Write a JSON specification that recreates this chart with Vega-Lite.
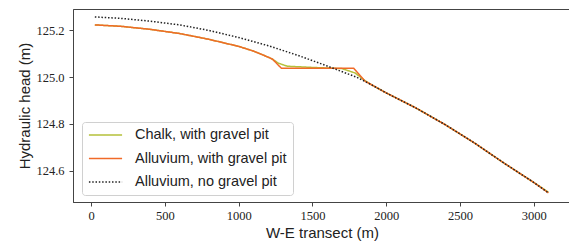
{
  "$schema": "https://vega.github.io/schema/vega-lite/v6.json",
  "width": 498,
  "height": 193,
  "autosize": {"type": "none"},
  "padding": {"left": 73, "top": 9, "right": 0, "bottom": 41},
  "background": "white",
  "config": {
    "view": {"stroke": "#444", "strokeWidth": 1},
    "axis": {
      "domainColor": "#444",
      "tickColor": "#444",
      "tickSize": 4,
      "grid": false,
      "labelFont": "Liberation Serif",
      "labelFontSize": 12.5,
      "labelColor": "#222",
      "titleFont": "Liberation Sans",
      "titleFontSize": 15,
      "titleFontWeight": "normal",
      "titleColor": "#222"
    }
  },
  "data": {
    "values": [
      {"x": 25, "h": 125.224, "series": "Chalk, with gravel pit"},
      {"x": 200, "h": 125.218, "series": "Chalk, with gravel pit"},
      {"x": 400, "h": 125.205, "series": "Chalk, with gravel pit"},
      {"x": 600, "h": 125.187, "series": "Chalk, with gravel pit"},
      {"x": 800, "h": 125.162, "series": "Chalk, with gravel pit"},
      {"x": 1000, "h": 125.132, "series": "Chalk, with gravel pit"},
      {"x": 1100, "h": 125.112, "series": "Chalk, with gravel pit"},
      {"x": 1200, "h": 125.086, "series": "Chalk, with gravel pit"},
      {"x": 1230, "h": 125.077, "series": "Chalk, with gravel pit"},
      {"x": 1270, "h": 125.060, "series": "Chalk, with gravel pit"},
      {"x": 1330, "h": 125.047, "series": "Chalk, with gravel pit"},
      {"x": 1500, "h": 125.042, "series": "Chalk, with gravel pit"},
      {"x": 1700, "h": 125.037, "series": "Chalk, with gravel pit"},
      {"x": 1790, "h": 125.018, "series": "Chalk, with gravel pit"},
      {"x": 1855, "h": 124.986, "series": "Chalk, with gravel pit"},
      {"x": 1900, "h": 124.968, "series": "Chalk, with gravel pit"},
      {"x": 2000, "h": 124.933, "series": "Chalk, with gravel pit"},
      {"x": 2200, "h": 124.869, "series": "Chalk, with gravel pit"},
      {"x": 2400, "h": 124.797, "series": "Chalk, with gravel pit"},
      {"x": 2600, "h": 124.718, "series": "Chalk, with gravel pit"},
      {"x": 2800, "h": 124.632, "series": "Chalk, with gravel pit"},
      {"x": 3000, "h": 124.550, "series": "Chalk, with gravel pit"},
      {"x": 3100, "h": 124.508, "series": "Chalk, with gravel pit"},

      {"x": 25, "h": 125.224, "series": "Alluvium, with gravel pit"},
      {"x": 200, "h": 125.218, "series": "Alluvium, with gravel pit"},
      {"x": 400, "h": 125.205, "series": "Alluvium, with gravel pit"},
      {"x": 600, "h": 125.187, "series": "Alluvium, with gravel pit"},
      {"x": 800, "h": 125.162, "series": "Alluvium, with gravel pit"},
      {"x": 1000, "h": 125.132, "series": "Alluvium, with gravel pit"},
      {"x": 1100, "h": 125.112, "series": "Alluvium, with gravel pit"},
      {"x": 1200, "h": 125.086, "series": "Alluvium, with gravel pit"},
      {"x": 1230, "h": 125.077, "series": "Alluvium, with gravel pit"},
      {"x": 1290, "h": 125.038, "series": "Alluvium, with gravel pit"},
      {"x": 1500, "h": 125.038, "series": "Alluvium, with gravel pit"},
      {"x": 1780, "h": 125.038, "series": "Alluvium, with gravel pit"},
      {"x": 1855, "h": 124.984, "series": "Alluvium, with gravel pit"},
      {"x": 1900, "h": 124.968, "series": "Alluvium, with gravel pit"},
      {"x": 2000, "h": 124.933, "series": "Alluvium, with gravel pit"},
      {"x": 2200, "h": 124.869, "series": "Alluvium, with gravel pit"},
      {"x": 2400, "h": 124.797, "series": "Alluvium, with gravel pit"},
      {"x": 2600, "h": 124.718, "series": "Alluvium, with gravel pit"},
      {"x": 2800, "h": 124.632, "series": "Alluvium, with gravel pit"},
      {"x": 3000, "h": 124.550, "series": "Alluvium, with gravel pit"},
      {"x": 3100, "h": 124.505, "series": "Alluvium, with gravel pit"},

      {"x": 25, "h": 125.258, "series": "Alluvium, no gravel pit"},
      {"x": 200, "h": 125.252, "series": "Alluvium, no gravel pit"},
      {"x": 400, "h": 125.240, "series": "Alluvium, no gravel pit"},
      {"x": 600, "h": 125.224, "series": "Alluvium, no gravel pit"},
      {"x": 800, "h": 125.200, "series": "Alluvium, no gravel pit"},
      {"x": 1000, "h": 125.170, "series": "Alluvium, no gravel pit"},
      {"x": 1200, "h": 125.135, "series": "Alluvium, no gravel pit"},
      {"x": 1400, "h": 125.094, "series": "Alluvium, no gravel pit"},
      {"x": 1600, "h": 125.048, "series": "Alluvium, no gravel pit"},
      {"x": 1800, "h": 125.000, "series": "Alluvium, no gravel pit"},
      {"x": 1900, "h": 124.968, "series": "Alluvium, no gravel pit"},
      {"x": 2000, "h": 124.933, "series": "Alluvium, no gravel pit"},
      {"x": 2200, "h": 124.869, "series": "Alluvium, no gravel pit"},
      {"x": 2400, "h": 124.797, "series": "Alluvium, no gravel pit"},
      {"x": 2600, "h": 124.718, "series": "Alluvium, no gravel pit"},
      {"x": 2800, "h": 124.632, "series": "Alluvium, no gravel pit"},
      {"x": 3000, "h": 124.550, "series": "Alluvium, no gravel pit"},
      {"x": 3100, "h": 124.505, "series": "Alluvium, no gravel pit"}
    ]
  },
  "mark": {"type": "line", "strokeWidth": 1.5, "clip": true},
  "encoding": {
    "x": {
      "field": "x", "type": "quantitative",
      "scale": {"domain": [-123, 3253], "nice": false, "zero": false},
      "axis": {"values": [0, 500, 1000, 1500, 2000, 2500, 3000], "format": "d", "title": "W-E transect (m)", "labelPadding": 3, "titlePadding": 4}
    },
    "y": {
      "field": "h", "type": "quantitative",
      "scale": {"domain": [124.466, 125.292], "nice": false, "zero": false},
      "axis": {"values": [124.6, 124.8, 125.0, 125.2], "format": ".1f", "title": "Hydraulic head (m)", "labelPadding": 5, "titlePadding": 3}
    },
    "color": {
      "field": "series", "type": "nominal",
      "scale": {
        "domain": ["Chalk, with gravel pit", "Alluvium, with gravel pit", "Alluvium, no gravel pit"],
        "range": ["#b5c03a", "#f06a28", "#222222"]
      },
      "legend": {
        "title": null,
        "orient": "none",
        "legendX": 9,
        "legendY": 113,
        "symbolType": "stroke",
        "symbolSize": 1100,
        "symbolStrokeWidth": 1.5,
        "clipHeight": 14,
        "labelFont": "Liberation Sans",
        "labelFontSize": 14.5,
        "labelColor": "#222",
        "labelOffset": 12,
        "rowPadding": 8.5,
        "padding": 6,
        "strokeColor": "#d0d0d0",
        "fillColor": "white",
        "cornerRadius": 3
      }
    },
    "strokeDash": {
      "field": "series", "type": "nominal",
      "scale": {
        "domain": ["Chalk, with gravel pit", "Alluvium, with gravel pit", "Alluvium, no gravel pit"],
        "range": [[1, 0], [1, 0], [1.5, 1.8]]
      },
      "legend": null
    },
    "order": {"field": "x", "type": "quantitative"}
  }
}
